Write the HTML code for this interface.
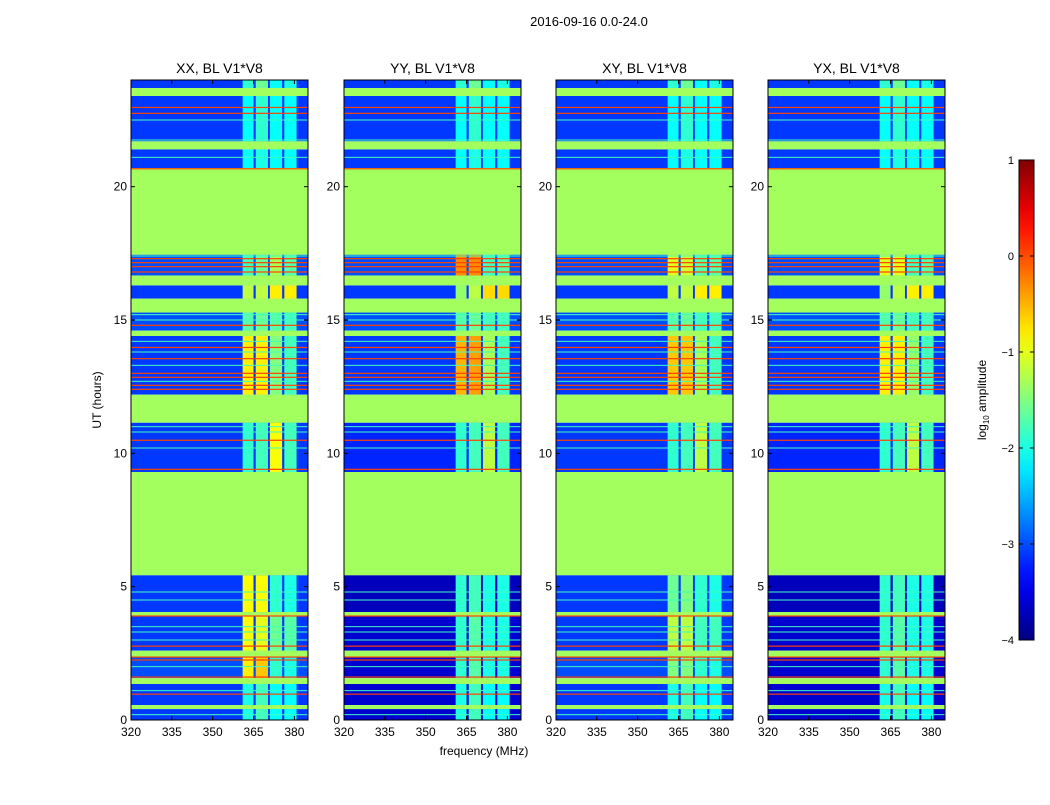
<!DOCTYPE html>
<html><head><meta charset="utf-8"><style>
body{margin:0;background:#fff;}
svg text{font-family:"Liberation Sans",sans-serif;fill:#000;}
</style></head><body>
<svg id="fig" width="1050" height="800" xmlns="http://www.w3.org/2000/svg">
<rect width="1050" height="800" fill="#fff"/>
<text x="589" y="26" font-size="13" text-anchor="middle">2016-09-16 0.0-24.0</text>
<text x="484" y="755" font-size="12" text-anchor="middle">frequency (MHz)</text>
<text x="101" y="400" font-size="12" text-anchor="middle" transform="rotate(-90 101 400)">UT (hours)</text>
<g id="panels"></g>
<g id="cbar"></g>
</svg>
<script>
const panelTitles = ["XX, BL V1*V8","YY, BL V1*V8","XY, BL V1*V8","YX, BL V1*V8"];
const xTicks = [320,335,350,365,380];
const yTicks = [0,5,10,15,20];
const cbarTicks = [1,0,-1,-2,-3,-4];
// data segments (hours) between flagged blocks
const segments = [[23.7,24],[21.7,23.4],[20.7,21.4],[16.67,17.45],[15.8,16.3],[14.6,15.28],[12.2,14.4],[9.3,11.15],[4.05,5.43],[2.6,3.9],[1.57,2.35],[0.56,1.35],[0,0.41]];
// flagged (constant) blocks
const flagBlocks = [[23.4,23.7],[21.4,21.7],[17.45,20.7],[16.3,16.67],[15.28,15.8],[14.4,14.6],[11.15,12.2],[5.43,9.3],[3.9,4.05],[2.35,2.6],[1.35,1.57],[0.41,0.56]];
const flagValue = -1.33;
// RFI-bright channel bands (MHz)
const chanBands = [[361,365],[365.8,370.3],[371,375.5],[376.3,380.8]];
// background noise level per panel per segment (log10 amplitude)
const noiseXX = [-3.1,-3.1,-3.1,-3.0,-3.1,-3.0,-3.1,-3.1,-3.1,-3.1,-3.0,-3.1,-3.1];
const noiseYY = [-3.1,-3.1,-3.1,-3.0,-3.1,-3.0,-3.1,-3.2,-3.7,-3.6,-3.6,-3.6,-3.6];
const noiseXY = [-3.1,-3.1,-3.1,-3.0,-3.1,-3.0,-3.1,-3.1,-3.1,-3.1,-3.0,-3.1,-3.1];
const noiseYX = [-3.1,-3.1,-3.1,-3.0,-3.1,-3.0,-3.1,-3.2,-3.7,-3.6,-3.6,-3.6,-3.6];
// band levels per panel: per segment, 4 bands
const bandsXX = [[-1.9,-1.6,-2.1,-2.0],[-2.1,-1.9,-2.1,-2.1],[-2.1,-2.0,-2.1,-2.1],[-1.8,-1.6,-1.3,-1.7],[-1.2,-1.2,-0.8,-0.8],[-1.7,-1.6,-1.7,-1.8],[-0.8,-0.8,-1.5,-1.8],[-1.9,-1.8,-0.9,-1.8],[-0.9,-0.9,-1.9,-2.0],[-0.9,-1.0,-1.6,-1.7],[-0.8,-0.6,-1.9,-2.0],[-2.0,-1.8,-2.1,-2.1],[-2.0,-1.8,-2.1,-2.1]];
const bandsYY = [[-1.9,-1.6,-2.1,-2.0],[-2.1,-1.9,-2.1,-2.1],[-2.1,-2.0,-2.1,-2.1],[-0.3,-0.3,-1.8,-1.7],[-1.4,-1.2,-0.7,-0.7],[-1.7,-1.6,-1.8,-1.8],[-0.5,-0.4,-1.3,-1.8],[-1.9,-1.8,-1.2,-1.8],[-1.9,-1.8,-2.0,-2.0],[-1.9,-1.7,-2.0,-2.0],[-1.9,-1.7,-2.0,-2.0],[-2.0,-1.8,-2.1,-2.1],[-2.0,-1.8,-2.1,-2.1]];
const bandsXY = [[-1.9,-1.6,-2.1,-2.0],[-2.1,-1.9,-2.1,-2.1],[-2.1,-2.0,-2.1,-2.1],[-1.0,-1.1,-1.7,-1.7],[-1.2,-1.2,-0.8,-0.8],[-1.7,-1.6,-1.8,-1.8],[-0.6,-0.6,-1.3,-1.8],[-1.9,-1.8,-1.2,-1.8],[-1.6,-1.5,-1.9,-2.0],[-1.2,-1.2,-1.8,-1.8],[-1.5,-1.5,-1.9,-2.0],[-2.0,-1.8,-2.1,-2.1],[-2.0,-1.8,-2.1,-2.1]];
const bandsYX = [[-1.9,-1.6,-2.1,-2.0],[-2.1,-1.9,-2.1,-2.1],[-2.1,-2.0,-2.1,-2.1],[-1.0,-1.0,-1.8,-1.7],[-1.4,-1.2,-0.8,-0.8],[-1.7,-1.6,-1.8,-1.8],[-0.8,-0.8,-1.4,-1.8],[-1.9,-1.8,-1.2,-1.8],[-1.9,-1.8,-2.0,-2.0],[-1.9,-1.7,-2.0,-2.0],[-1.9,-1.7,-2.0,-2.0],[-2.0,-1.8,-2.1,-2.1],[-2.0,-1.8,-2.1,-2.1]];
// bright RFI lines across all channels (hours)
const redLines = [22.97,22.75,20.67,17.3,17.15,17.0,16.8,14.8,13.97,13.55,13.0,12.85,12.55,12.4,10.49,9.4,3.9,2.77,2.36,2.25,1.61,0.97];
const redValue = 0.05;
const cyanLines = [22.5,21.75,21.1,17.4,15.2,15.0,14.2,13.8,13.3,12.7,11.0,10.8,10.2,4.8,4.5,3.5,3.3,3.0,2.0,1.1,0.2];
const cyanValue = -1.8;

const noiseAll = [noiseXX,noiseYY,noiseXY,noiseYX];
const bandsAll = [bandsXX,bandsYY,bandsXY,bandsYX];
const NS="http://www.w3.org/2000/svg";
const panelX=[131,344,556,768], PW=177, PT=80, PB=720;
const vmin=-4, vmax=1;
function jet(v){let t=(v-vmin)/(vmax-vmin);t=Math.max(0,Math.min(1,t));
 const c=x=>Math.round(255*Math.max(0,Math.min(1,x)));
 return `rgb(${c(1.5-Math.abs(4*t-3))},${c(1.5-Math.abs(4*t-2))},${c(1.5-Math.abs(4*t-1))})`;}
function yScale(h){return PB-(h/24)*(PB-PT);}
function mk(tag,attrs,parent){const e=document.createElementNS(NS,tag);for(const k in attrs)e.setAttribute(k,attrs[k]);parent.appendChild(e);return e;}
const panelsG=document.getElementById('panels');
panelTitles.forEach((title,p)=>{
 const x0=panelX[p];
 const xScale=f=>x0+(f-320)/65*PW;
 const g=mk('g',{},panelsG);
 
 
 segments.forEach((s,i)=>{
  const r=mk('rect',{x:x0,y:yScale(s[1]),width:PW,height:yScale(s[0])-yScale(s[1]),fill:jet(noiseAll[p][i])},g);
  
  
  chanBands.forEach((b,j)=>{
   const c=mk('rect',{x:xScale(b[0]),y:yScale(s[1]),width:xScale(b[1])-xScale(b[0]),height:yScale(s[0])-yScale(s[1]),fill:jet(bandsAll[p][i][j])},g);
   
   
  });
 });
 flagBlocks.forEach(f=>{
  const r=mk('rect',{x:x0,y:yScale(f[1]),width:PW,height:yScale(f[0])-yScale(f[1]),fill:jet(flagValue)},g);
  
  
 });
 cyanLines.forEach(h=>{
  const l=mk('rect',{x:x0,y:yScale(h)-0.5,width:PW,height:1,fill:jet(cyanValue)},g);
  
  
 });
 redLines.forEach(h=>{
  const l=mk('rect',{x:x0,y:yScale(h)-0.6,width:PW,height:1.2,fill:jet(redValue)},g);
  
  
 });
 const fr=mk('rect',{x:x0,y:PT,width:PW,height:PB-PT,fill:'none',stroke:'#000','stroke-width':1},g);
 
 
 const t=mk('text',{x:x0+PW/2,y:73,'font-size':14,'text-anchor':'middle'},g);t.textContent=title;
 
 
 xTicks.forEach(v=>{const x=xScale(v);
  mk('line',{x1:x,x2:x,y1:PB,y2:PB-4,stroke:'#000'},g);mk('line',{x1:x,x2:x,y1:PT,y2:PT+4,stroke:'#000'},g);
  const tx=mk('text',{x:x,y:PB+16,'font-size':12,'text-anchor':'middle'},g);tx.textContent=v;
  
  });
 yTicks.forEach(v=>{const y=yScale(v);
  mk('line',{x1:x0,x2:x0+4,y1:y,y2:y,stroke:'#000'},g);mk('line',{x1:x0+PW,x2:x0+PW-4,y1:y,y2:y,stroke:'#000'},g);
  const ty=mk('text',{x:x0-4,y:y+4,'font-size':12,'text-anchor':'end'},g);ty.textContent=v;
  
  });
});
// colorbar
const cb=document.getElementById('cbar');
const cbX=1019,cbW=15,cbT=160,cbB=640;
const cbY=v=>cbB-(v-vmin)/(vmax-vmin)*(cbB-cbT);
const defs=mk('defs',{},cb);
const grad=mk('linearGradient',{id:'jetg',x1:0,y1:1,x2:0,y2:0},defs);
for(let i=0;i<=20;i++){mk('stop',{offset:i/20,'stop-color':jet(vmin+(vmax-vmin)*i/20)},grad);}
const cr=mk('rect',{x:cbX,y:cbT,width:cbW,height:cbB-cbT,fill:'url(#jetg)',stroke:'#000'},cb);


cbarTicks.forEach(v=>{const y=cbY(v);
 mk('line',{x1:cbX,x2:cbX+4,y1:y,y2:y,stroke:'#000'},cb);mk('line',{x1:cbX+cbW,x2:cbX+cbW-4,y1:y,y2:y,stroke:'#000'},cb);
 const t=mk('text',{x:cbX-5,y:y+4,'font-size':11,'text-anchor':'end'},cb);t.textContent=v<0?'\u2212'+(-v):v;
 
 });
const cl=mk('text',{x:986,y:400,'font-size':12,'text-anchor':'middle',transform:'rotate(-90 986 400)'},cb);
cl.innerHTML='log<tspan font-size="8" dy="3">10</tspan><tspan dy="-3"> amplitude</tspan>';


</script>
</body></html>
